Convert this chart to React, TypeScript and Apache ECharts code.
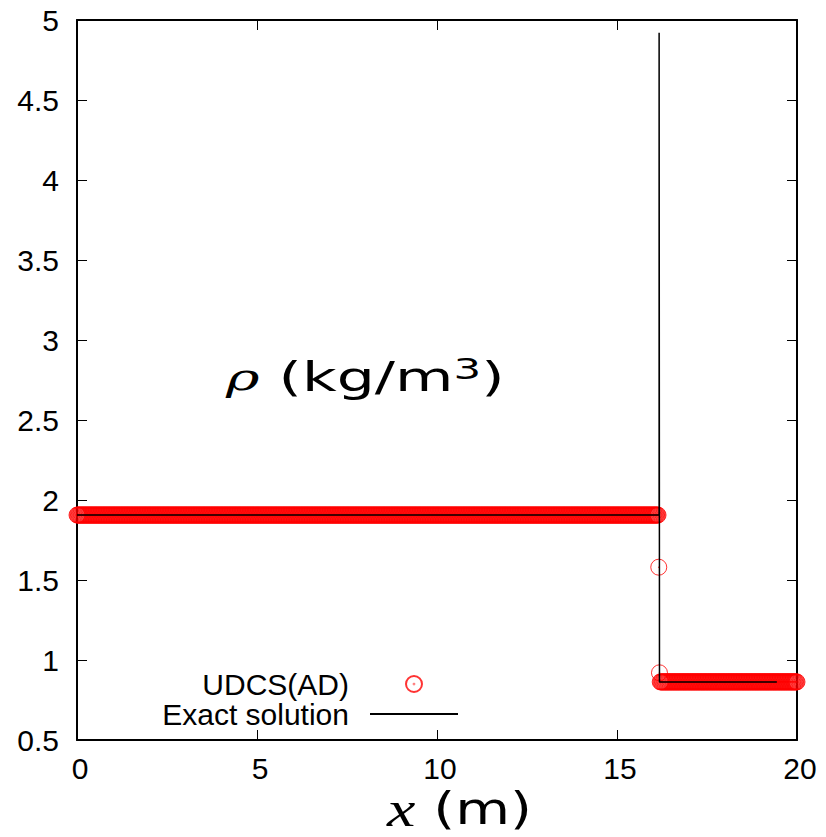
import React, { useEffect, useRef } from "react";
import * as echarts from "echarts";

// Axis ranges and ticks
const xTicks = [0, 5, 10, 15, 20];
const yTicks = [0.5, 1, 1.5, 2, 2.5, 3, 3.5, 4, 4.5, 5];

// Numerical solution (UDCS(AD)): uniform cells, piecewise states
const cellSize = 0.02;
const leftStateX = [0, 16.14];
const leftStateRho = 1.906;
const shockCellX = [16.16, 16.18];
const shockCellRho = [1.58, 0.92];
const rightStateX = [16.2, 20];
const rightStateRho = 0.863;

// Exact solution polyline
const exactX = [0, 16.17, 16.17, 16.18, 19.44];
const exactRho = [1.906, 1.906, 4.92, 0.863, 0.863];

function plateau(range: number[], rho: number): number[][] {
  const n = Math.round((range[1] - range[0]) / cellSize);
  const pts: number[][] = [];
  for (let i = 0; i <= n; i++) {
    pts.push([+(range[0] + i * cellSize).toFixed(4), rho]);
  }
  return pts;
}

const udcsData: number[][] = [
  ...plateau(leftStateX, leftStateRho),
  ...shockCellX.map((x, i) => [x, shockCellRho[i]]),
  ...plateau(rightStateX, rightStateRho),
];
const exactData = exactX.map((x, i) => [x, exactRho[i]]);

const ringSymbol =
  "path://M16,8A8,8,0,1,1,0,8A8,8,0,1,1,16,8ZM8.3,8A0.3,0.3,0,1,1,7.7,8A0.3,0.3,0,1,1,8.3,8Z";

const sans = "'Liberation Sans', Arial, sans-serif";
const labelSans = "'DejaVu Sans', sans-serif";
const mathSerif = "'DejaVu Serif', serif";
const mathItalic = "'Liberation Serif', 'DejaVu Serif', serif";

export default function App() {
  const ref = useRef<HTMLDivElement>(null);

  useEffect(() => {
    if (!ref.current) return;
    const chart = echarts.init(ref.current, null, { renderer: "svg" });

    const axisCommon = {
      type: "value" as const,
      axisLine: { show: true, onZero: false, lineStyle: { color: "#000", width: 2 } },
      axisTick: { show: true, inside: true, length: 10, lineStyle: { color: "#000", width: 1 } },
      splitLine: { show: false },
    };

    chart.setOption({
      animation: false,
      backgroundColor: "#fff",
      grid: { left: 77, right: 29, top: 20, bottom: 97 },
      xAxis: [
        {
          ...axisCommon,
          position: "bottom",
          min: xTicks[0],
          max: xTicks[xTicks.length - 1],
          interval: 5,
          axisLabel: {
            fontSize: 30,
            fontFamily: sans,
            color: "#000",
            margin: 13,
            padding: [0, 0, 0, 6],
          },
        },
        {
          ...axisCommon,
          position: "top",
          min: xTicks[0],
          max: xTicks[xTicks.length - 1],
          interval: 5,
          axisLabel: { show: false },
        },
      ],
      yAxis: [
        {
          ...axisCommon,
          position: "left",
          min: yTicks[0],
          max: yTicks[yTicks.length - 1],
          interval: 0.5,
          axisLabel: { fontSize: 30, fontFamily: sans, color: "#000", margin: 18 },
        },
        {
          ...axisCommon,
          position: "right",
          min: yTicks[0],
          max: yTicks[yTicks.length - 1],
          interval: 0.5,
          axisLabel: { show: false },
        },
      ],
      legend: {
        orient: "vertical",
        align: "right",
        right: 367,
        top: 669,
        padding: 0,
        itemGap: 0,
        itemWidth: 88,
        itemHeight: 16,
        symbolKeepAspect: true,
        textStyle: {
          fontSize: 30,
          fontFamily: sans,
          color: "#000",
          lineHeight: 30,
          padding: [0, 16, 0, 0],
        },
        data: [
          "UDCS(AD)",
          { name: "Exact solution", itemStyle: { opacity: 0 } },
        ],
      },
      graphic: [
        {
          type: "text",
          x: 226,
          y: 377,
          scaleX: 1.5,
          style: {
            text: "{r|ρ} (kg/m{s|3})",
            font: `40px ${labelSans}`,
            fill: "#000",
            align: "left",
            verticalAlign: "middle",
            lineHeight: 44,
            rich: {
              r: {
                fontFamily: mathSerif,
                fontStyle: "italic",
                fontSize: 38,
                lineHeight: 44,
                fill: "#000",
              },
              s: {
                fontFamily: labelSans,
                fontSize: 29,
                lineHeight: 20,
                verticalAlign: "top",
                fill: "#000",
              },
            },
          },
        },
        {
          type: "text",
          x: 387,
          y: 809,
          scaleX: 1.28,
          style: {
            text: "{r|x} (m)",
            font: `44px ${labelSans}`,
            fill: "#000",
            align: "left",
            verticalAlign: "middle",
            lineHeight: 44,
            rich: {
              r: {
                fontFamily: mathItalic,
                fontStyle: "italic",
                fontSize: 50,
                lineHeight: 44,
                fill: "#000",
              },
            },
          },
        },
      ],
      series: [
        {
          name: "UDCS(AD)",
          type: "scatter",
          xAxisIndex: 0,
          yAxisIndex: 0,
          data: udcsData,
          symbol: ringSymbol,
          symbolSize: 16,
          symbolKeepAspect: true,
          itemStyle: { color: "rgba(0,0,0,0)", borderColor: "#ff0000", borderWidth: 1 },
          emphasis: { disabled: true },
        },
        {
          name: "Exact solution",
          type: "line",
          xAxisIndex: 0,
          yAxisIndex: 0,
          data: exactData,
          symbol: "none",
          lineStyle: { color: "#000", width: 1.5 },
          itemStyle: { color: "#000" },
          clip: false,
          emphasis: { disabled: true },
        },
      ],
    });

    return () => chart.dispose();
  }, []);

  return (
    <div
      ref={ref}
      style={{ position: "fixed", left: 0, top: 0, width: 826, height: 837 }}
    />
  );
}
